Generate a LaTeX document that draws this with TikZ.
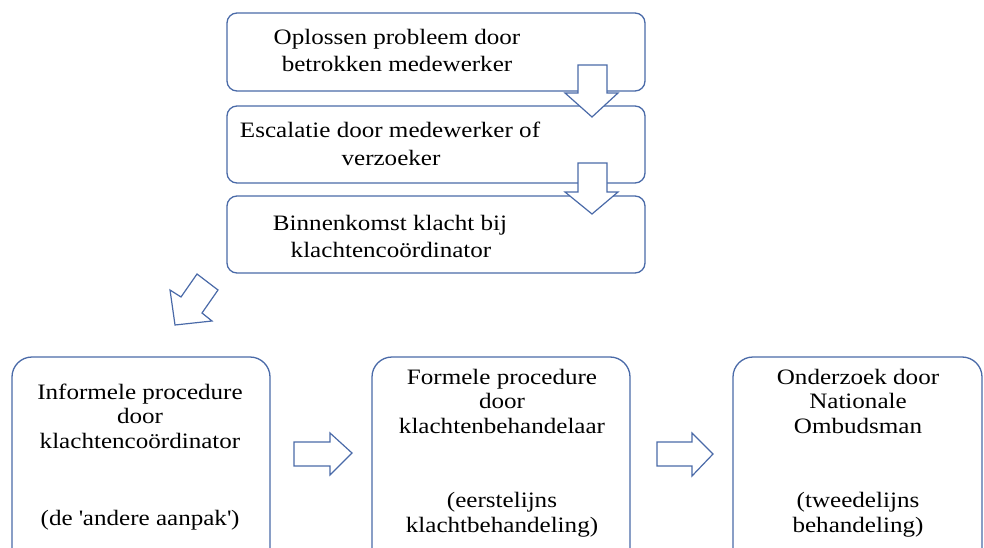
\documentclass[tikz,border=0pt]{standalone}
\usepackage{fontspec}
\setmainfont{Liberation Serif}[FakeStretch=1.14]
\definecolor{bord}{RGB}{74,106,168}
\begin{document}
\begin{tikzpicture}[x=1pt,y=-1pt,
  box/.style={draw=bord,line width=1.3pt,rounded corners=10pt},
  bigbox/.style={draw=bord,line width=1.3pt,rounded corners=20pt},
  blockarrow/.style={draw=bord,line width=1.2pt,fill=white,line join=miter},
  txt/.style={anchor=base,inner sep=0pt,font=\fontsize{22}{25}\selectfont}]
\useasboundingbox (0,0) rectangle (984,548);
% top boxes
\draw[box] (227,13) rectangle (645,91);
\draw[box] (227,106) rectangle (645,183);
\draw[box] (227,196) rectangle (645,273);
\node[txt] (t1a) at (397,45) {Oplossen probleem door};
\node[txt] (t1b) at (397,72) {betrokken medewerker};
\node[txt] (t2a) at (390,138) {Escalatie door medewerker of};
\node[txt] (t2b) at (391,165) {verzoeker};
\node[txt] (t3a) at (390,230) {Binnenkomst klacht bij};
\node[txt] (t3b) at (391,257) {klachtencoördinator};
% down arrows
\draw[blockarrow] (578,65) -- (607,65) -- (607,93) -- (618,93) -- (592,117) -- (565,93) -- (578,93) -- cycle;
\draw[blockarrow] (578,163) -- (607,163) -- (607,192) -- (618,192) -- (592,214) -- (565,192) -- (578,192) -- cycle;
% diagonal arrow
\draw[blockarrow] (175,325) -- (170,290) -- (181,297) -- (197,274) -- (218,290) -- (202,313) -- (212,321) -- cycle;
% bottom boxes
\begin{scope}
\clip (0,0) rectangle (984,548);
\draw[bigbox] (12,357) rectangle (270,580);
\draw[bigbox] (372,357) rectangle (630,580);
\draw[bigbox] (733,357) rectangle (982,580);
\end{scope}
\node[txt] (c1a) at (140,399) {Informele procedure};
\node[txt] (c1b) at (140,423) {door};
\node[txt] (c1c) at (140,448) {klachtencoördinator};
\node[txt] (c1d) at (140,525) {(de \textquotesingle andere aanpak\textquotesingle)};
\node[txt] (c2a) at (502,384) {Formele procedure};
\node[txt] (c2b) at (502,408) {door};
\node[txt] (c2c) at (502,433) {klachtenbehandelaar};
\node[txt] (c2d) at (502,507) {(eerstelijns};
\node[txt] (c2e) at (502,532) {klachtbehandeling)};
\node[txt] (c3a) at (858,384) {Onderzoek door};
\node[txt] (c3b) at (858,408) {Nationale};
\node[txt] (c3c) at (858,433) {Ombudsman};
\node[txt] (c3d) at (858,507) {(tweedelijns};
\node[txt] (c3e) at (858,532) {behandeling)};
% right arrows
\draw[blockarrow] (294,442) -- (330,442) -- (330,433) -- (352,453) -- (330,475) -- (330,466) -- (294,466) -- cycle;
\draw[blockarrow] (657,442) -- (692,442) -- (692,433) -- (713,454) -- (692,476) -- (692,466) -- (657,466) -- cycle;
\end{tikzpicture}
\end{document}
